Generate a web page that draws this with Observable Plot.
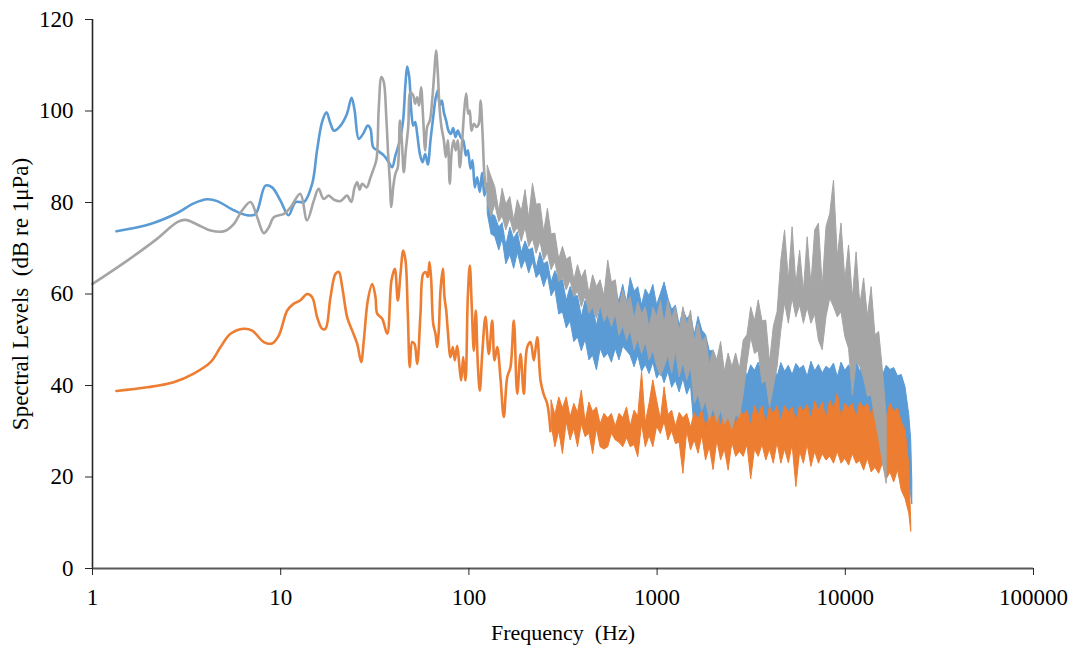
<!DOCTYPE html>
<html>
<head>
<meta charset="utf-8">
<script src="https://cdn.jsdelivr.net/npm/d3@7"></script>
<script src="https://cdn.jsdelivr.net/npm/@observablehq/plot@0.6"></script>
<style>
  body { margin: 0; background: #fff; }
  svg text { white-space: pre; }
</style>
</head>
<body>
<div id="chart"></div>
<script>
// Underwater noise spectra: three recordings, spectral level vs frequency (log axis).

const xTicks = [1, 10, 100, 1000, 10000, 100000];
const yTicks = [0, 20, 40, 60, 80, 100, 120];
const xTitle = "Frequency  (Hz)";
const yTitle = "Spectral Levels  (dB re 1μPa)";

// Low-frequency part of each spectrum (individual resolved points)
const blueLineHz = [1.34, 2.03, 2.82, 3.45, 4.07, 4.6, 5.63, 6.64, 7.35, 8.3, 9.0, 9.97, 11.0, 12.0, 13.3, 14.7, 15.6, 16.6, 17.5, 18.4, 19.2, 20.8, 22.5, 23.8, 24.7, 26.0, 27.4, 29.0, 30.0, 31.0, 32.6, 35.3, 37.5, 39.1, 40.7, 43.0, 44.7, 46.0, 47.0, 48.2, 49.4, 50.6, 51.8, 53.1, 54.9, 56.7, 58.6, 60.5, 62.5, 64.6, 66.7, 68.4, 70.0, 71.8, 73.6, 75.7, 77.9, 80.2, 82.5, 84.9, 87.3, 90.2, 93.3, 96.4, 98.7, 102, 104.5, 107.5, 110.6, 114.3, 117.5, 121, 124];
const blueLineDb = [73.7, 75.3, 77.7, 79.8, 80.7, 80.3, 78.3, 77.2, 77.5, 83.7, 83.3, 80.4, 77.2, 80.1, 80.1, 84.1, 91.4, 97.6, 99.7, 97.2, 95.7, 96.8, 99.4, 102.9, 100.1, 93.9, 95.0, 96.8, 96.1, 92.1, 91.4, 90.3, 88.8, 87.7, 90.3, 93.6, 97.9, 105.9, 109.7, 107.4, 100.1, 96.8, 97.6, 95.0, 90.6, 88.8, 90.6, 88.3, 93.6, 98.6, 103.0, 104.5, 101.2, 102.3, 99.7, 97.9, 95.7, 95.0, 96.3, 94.3, 95.7, 94.3, 93.6, 90.3, 91.4, 87.4, 89.2, 83.3, 85.5, 82.3, 86.5, 81.5, 84];

const grayLineHz = [1.0, 1.53, 2.21, 2.82, 3.12, 3.6, 4.24, 4.99, 5.63, 6.24, 6.91, 7.5, 8.13, 8.65, 9.19, 10.4, 11.3, 12.7, 13.8, 15.0, 15.9, 16.9, 18.0, 19.2, 20.8, 22.5, 23.7, 24.7, 25.5, 26.3, 27.1, 28.6, 30.0, 31.2, 32.3, 33.2, 34.3, 35.3, 36.4, 37.3, 38.0, 38.7, 39.6, 40.7, 41.9, 43.0, 44.0, 45.1, 46.2, 47.6, 48.9, 50.6, 51.8, 53.1, 54.4, 55.7, 57.1, 58.6, 60.0, 62.0, 63.8, 65.6, 66.9, 68.4, 69.8, 71.5, 73.6, 75.4, 77.3, 79.1, 81.1, 83.0, 85.1, 87.3, 89.5, 92.1, 94.8, 96.8, 99.2, 101, 103.2, 106.2, 109.7, 112.9, 115.3, 118, 121, 124];
const grayLineDb = [62.2, 67.3, 72.1, 75.7, 76.2, 75.2, 73.9, 73.7, 75.3, 78.3, 80.1, 76.8, 73.3, 74.6, 76.8, 77.5, 79.0, 81.9, 76.1, 80.4, 83.0, 80.8, 81.5, 80.6, 80.3, 81.5, 80.1, 83.3, 84.4, 82.8, 84.1, 83.3, 85.5, 87.4, 89.5, 100.8, 107.4, 106.3, 98.6, 89.9, 84.8, 79.0, 83.3, 86.3, 87.7, 97.9, 93.6, 86.6, 91.4, 96.5, 104.1, 103.4, 101.6, 103.0, 101.2, 105.2, 98.6, 91.4, 96.5, 97.9, 102.3, 108.9, 113.2, 108.1, 100.8, 96.5, 93.6, 89.9, 93.6, 84.1, 91.4, 93.6, 91.4, 93.6, 87.7, 93.6, 100.8, 103.8, 99.4, 100.1, 95.7, 97.2, 96.5, 97.2, 102.3, 95.7, 85.9, 82.6];

const orangeLineHz = [1.34, 1.95, 2.70, 3.45, 4.24, 4.79, 5.41, 6.37, 7.06, 8.13, 9.0, 9.77, 10.83, 11.74, 12.7, 13.83, 14.70, 15.63, 16.61, 17.30, 18.39, 19.55, 20.36, 21.23, 22.56, 23.98, 25.50, 26.77, 27.64, 29.03, 30.64, 31.90, 32.56, 34.62, 36.81, 38.80, 40.40, 41.91, 43.31, 44.77, 46.05, 47.36, 48.53, 49.97, 51.40, 53.12, 55.30, 57.18, 59.02, 60.48, 61.75, 63.06, 64.62, 66.45, 67.85, 69.19, 70.64, 72.66, 74.19, 75.76, 77.25, 79.84, 82.13, 84.16, 86.66, 89.13, 91.01, 93.27, 95.92, 98.67, 101.1, 103.6, 106.2, 108.8, 111.5, 114.3, 117.7, 122.5, 127.6, 133.0, 136.8, 141.4, 147.2, 153.2, 159.8, 166.3, 173.3, 180.6, 188.1, 195.8, 204.1, 212.5, 221.3, 230.7, 240.2, 250.0, 260.7, 271.4];
const orangeLineDb = [38.8, 39.6, 40.7, 42.6, 45.1, 48.4, 51.3, 52.4, 52.0, 49.5, 49.2, 50.9, 56.4, 57.9, 58.6, 60.0, 59.3, 54.9, 52.4, 52.4, 59.3, 64.4, 64.8, 61.5, 54.9, 52.0, 49.1, 45.1, 49.8, 58.6, 62.2, 59.3, 55.7, 54.6, 51.3, 63.0, 65.5, 58.6, 64.4, 69.5, 67.3, 55.7, 44.0, 49.5, 49.1, 44.7, 55.7, 64.4, 64.8, 63.7, 67.0, 63.0, 53.5, 51.3, 48.4, 52.0, 60.8, 65.5, 59.3, 56.4, 52.0, 46.2, 48.4, 45.5, 48.7, 44.0, 41.1, 46.2, 41.1, 59.3, 66.2, 57.1, 47.6, 56.4, 44.7, 38.9, 46.9, 55.0, 46.9, 54.2, 45.5, 48.4, 41.5, 33.1, 41.8, 44.0, 54.2, 38.2, 46.9, 38.2, 48.4, 49.5, 45.5, 50.6, 41.1, 38.0, 36.0, 30.0];

// Dense high-frequency part: shared frequency bins, with the low/high extent of each trace per bin
const bandHz = [126, 132, 138, 145, 151, 158, 166, 174, 182, 191, 200, 209, 219, 229, 240, 251, 263, 275, 288, 302, 316, 331, 347, 363, 380, 398, 417, 437, 457, 479, 501, 525, 550, 575, 603, 631, 661, 692, 724, 759, 794, 832, 871, 912, 955, 1000, 1047, 1096, 1148, 1202, 1259, 1318, 1380, 1445, 1514, 1585, 1660, 1738, 1820, 1905, 1995, 2089, 2188, 2291, 2399, 2512, 2630, 2754, 2884, 3020, 3162, 3311, 3467, 3631, 3802, 3981, 4169, 4365, 4571, 4786, 5012, 5248, 5495, 5754, 6026, 6310, 6607, 6918, 7244, 7586, 7943, 8318, 8710, 9120, 9550, 10000, 10471, 10965, 11482, 12023, 12589, 13183, 13804, 14454, 15136, 15849, 16596, 17378, 18197, 19055, 19953, 20893, 21878, 22400, 22700];

// blue trace, bins 0..114
const blueHi = [84, 77.5, 77, 74.5, 75.5, 70.5, 74.5, 72, 73.5, 69,
  71.5, 69.5, 70, 65.5, 69, 66.5, 67, 62.5, 65, 63,
  63, 58.5, 61.5, 59.5, 59.5, 55, 58.5, 57, 57, 53,
  57, 56.5, 58.5, 55.5, 60, 58.5, 62, 58, 63.5, 60.5,
  61.5, 57.5, 61, 59.5, 62, 57.5, 60, 62.5, 59, 56.5,
  57.5, 53, 56.5, 54.5, 55.5, 51, 55, 52, 51, 47.5,
  47.5, 45, 45.5, 42.5, 44.5, 43.5,
  44.2, 42.8, 44.6, 41.9, 44.4, 43.2, 45.0, 42.1, 43.9, 43.4, 44.6, 41.8, 44.9, 43.0, 44.3, 42.3, 44.7, 43.6, 44.3, 41.9, 45.2, 43.1, 44.5, 42.6, 44.1, 43.5, 44.8, 41.8, 45.0, 43.2, 44.4, 42.5, 45.1,
  43.0, 44.5, 41.9, 45.0, 43.3, 44.8, 42.2, 44.3, 43.4, 43.8, 42.0, 42.3, 39.6, 33.5,
  28, 19];
const blueLo = [77.5, 73, 72.5, 69.5, 72, 66.5, 68.5, 65.5, 69, 65.5,
  67.5, 64.5, 67, 63.5, 64.5, 61.5, 64, 59.5, 61, 55.5,
  56, 52.5, 54, 49.5, 50.5, 47.5, 50, 45.5, 46.5, 43.3,
  48, 46, 47, 45, 48, 45.5, 48.5, 47.5, 46.5, 44,
  46.5, 43, 44.5, 42.5, 45, 41.5, 43, 40.5, 43, 39.5,
  41, 38.5, 41.5, 38, 40,
  30, 30, 30, 30, 30, 30, 30, 30, 30, 30, 30,
  30, 30, 30, 30, 30, 30, 30, 30, 30, 30, 30, 30,
  30, 30.5, 30, 31, 30, 30.5, 30, 31, 30, 30.5, 30, 31, 30, 30.5, 30, 31, 30, 30.5, 30, 31, 30, 30.5, 30, 31, 30, 30.5, 30, 31, 30, 30.5, 30, 30.5,
  29.5, 28, 20,
  16, 14];

// gray trace, bins 0..106
const grayHi = [88.0, 85.5, 83.4, 78.0, 83.0, 79.5, 81.2, 76.0, 80.5, 78.0,
  82.7, 76.5, 84.1, 79.5, 79.7, 73.5, 78.6, 73.0, 73.2, 67.5,
  70.3, 67.5, 68.1, 63.0, 66.3, 63.5, 65.2, 60.0, 64.1, 61.5,
  63.0, 59.5, 67.3, 62.5, 63.0, 57.0, 60.8, 58.0, 59.3, 54.5,
  58.2, 55.5, 57.1, 52.5, 57.0, 55.0, 58.5, 53.5, 58.6, 54.5,
  57.1, 51.5, 57.1, 53.0, 56.4, 49.5, 53.5, 49.5, 50.6, 44.5,
  47.7, 45.5, 49.5, 43.0, 47.0, 44.0, 47.0, 43.5, 49.8, 51.0,
  57.1, 54.0, 58.6, 54.0, 54.2, 45.0, 52.8, 56.0,
  67.3, 73.9, 63.0, 74.6, 62.0, 69.5, 60.5, 72.4, 62.0, 73.9,
  75.4, 61.5, 74.6, 77.5, 84.8, 68.0, 75.4, 63.0, 70.6, 59.0,
  69.1, 57.5, 63.4, 55.0, 61.5, 51.0, 51.7, 43.2, 33.1];
const grayLo = [80.0, 76.8, 79.5, 75.7, 77.0, 73.9, 76.5, 73.2, 74.5, 71.4,
  74.5, 70.3, 72.0, 68.8, 71.5, 67.3, 69.0, 65.2, 67.0, 62.6,
  63.5, 60.8, 63.0, 59.3, 60.5, 57.1, 59.5, 55.7, 57.0, 54.6,
  57.5, 53.9, 55.5, 52.8, 55.5, 50.9, 53.0, 49.8, 52.0, 47.7,
  50.0, 46.9, 49.5, 45.5, 47.5, 44.2, 42.0, 44.0, 46.5, 42.6,
  47.5, 41.8, 45.0, 41.1, 44.0, 36.0, 38.0, 34.5, 36.5, 32.5,
  35.0, 32.0, 34.5, 31.5, 33.0, 30.5, 33.5, 33.0, 38.0, 44.7,
  50.5, 46.9, 47.5, 40.4, 41.0, 35.3, 39.5, 44.0,
  52.0, 58.0, 53.5, 59.0, 54.9, 57.5, 53.5, 57.0, 53.5, 55.5,
  49.8, 47.7, 54.9, 59.0, 57.1, 54.9, 56.0, 50.6, 48.0, 37.8,
  45.1, 44.0, 41.5, 37.5, 37.8, 32.7, 28.3, 23.2, 18.5];

// orange trace, bins 17..113
const orangeStart = 17;
const orangeHi = [36.7, 33.5, 37.4, 35.0, 37.4, 33.0, 36.0, 34.0, 38.9, 32.0,
  36.3, 34.2, 35.2, 31.5, 33.8, 32.8, 33.8, 31.0, 33.8, 32.9,
  35.2, 31.0, 34.5, 33.2, 42.9, 31.8, 36.0, 41.1, 36.7, 32.5,
  39.6, 33.5, 34.5, 31.0, 34.0, 32.8, 33.8, 30.8, 34.0, 32.5,
  34.5, 30.5, 34.2, 32.8, 34.5, 31.0, 34.0, 32.6, 34.5, 30.8,
  35.0, 33.4, 34.5, 31.2, 35.5, 33.5, 35.5, 31.5, 35.3, 33.6,
  35.5, 32.0, 35.5, 34.0, 35.2, 32.2, 35.5, 34.2, 35.8, 32.5,
  36.5, 34.4, 36.3, 32.6, 36.7, 34.8, 38.2, 32.8, 36.0, 35.0,
  36.0, 33.0, 36.3, 35.0, 36.0, 33.2, 36.3, 35.2, 36.0, 33.0,
  36.0, 34.2, 35.0, 32.0, 30.2, 22.5, 10.0];
const orangeLo = [31.5, 26.5, 30.0, 25.0, 32.0, 28.0, 30.5, 26.5, 31.5, 28.7,
  29.5, 25.0, 30.5, 26.5, 26.0, 26.5, 29.5, 28.0, 27.5, 26.5,
  28.5, 26.5, 27.0, 24.3, 31.5, 26.5, 29.0, 26.5, 31.0, 29.4,
  32.0, 28.0, 30.0, 27.2, 27.5, 20.7, 30.0, 25.8, 28.0, 25.1,
  29.0, 23.6, 26.5, 21.5, 28.0, 23.6, 26.0, 21.4, 27.5, 24.4,
  25.5, 24.4, 27.0, 19.5, 26.0, 24.4, 27.0, 23.6, 26.0, 22.9,
  27.5, 22.9, 26.0, 23.0, 27.0, 17.8, 25.5, 22.9, 27.0, 22.2,
  25.5, 22.9, 25.0, 23.6, 24.5, 22.9, 25.5, 22.9, 24.0, 22.5,
  25.0, 22.9, 23.5, 21.4, 24.0, 21.0, 22.0, 20.7, 23.0, 19.5,
  21.0, 18.8, 21.5, 17.0, 15.2, 12.0, 8.0];

const BLUE = "#5b9bd5", ORANGE = "#ed7d31", GRAY = "#a5a5a5";

const points = (hz, db) => hz.map((h, i) => ({hz: h, db: db[i]}));
const band = (start, lo, hi) => lo.map((l, i) => ({hz: bandHz[start + i], lo: l, hi: hi[i]}));

const lineOpts = (color) => ({x: "hz", y: "db", stroke: color, strokeWidth: 2.6, curve: "catmull-rom", strokeLinejoin: "round"});
const bandOpts = (color) => ({x: "hz", y1: "lo", y2: "hi", fill: color, stroke: color, strokeWidth: 1, strokeLinejoin: "round"});

const chart = Plot.plot({
  width: 1073,
  height: 649,
  marginLeft: 92,
  marginRight: 40,
  marginTop: 19,
  marginBottom: 81,
  style: {
    fontFamily: "'Liberation Serif', 'Times New Roman', serif",
    fontSize: "22px",
    color: "#000",
    background: "#fff"
  },
  x: {type: "log", domain: [1, 100000]},
  y: {domain: [0, 120]},
  marks: [
    Plot.areaY(band(0, blueLo, blueHi), bandOpts(BLUE)),
    Plot.lineY(points(blueLineHz, blueLineDb), lineOpts(BLUE)),
    Plot.areaY(band(orangeStart, orangeLo, orangeHi), bandOpts(ORANGE)),
    Plot.lineY(points(orangeLineHz, orangeLineDb), lineOpts(ORANGE)),
    Plot.areaY(band(0, grayLo, grayHi), bandOpts(GRAY)),
    Plot.lineY(points(grayLineHz, grayLineDb), lineOpts(GRAY)),
    Plot.ruleX([1], {stroke: "#262626", strokeWidth: 1.6}),
    Plot.ruleY([0], {stroke: "#595959", strokeWidth: 2}),
    Plot.axisX({
      ticks: xTicks,
      tickFormat: (d) => String(d),
      tickSize: 7,
      tickPadding: 13,
      stroke: "#262626",
      fontSize: 23,
      label: null
    }),
    Plot.axisY({
      ticks: yTicks,
      tickSize: 7,
      tickPadding: 12,
      stroke: "#262626",
      fontSize: 23,
      label: null
    }),
    Plot.text([xTitle], {text: (d) => d, frameAnchor: "bottom", textAnchor: "middle", lineAnchor: "middle", dy: 64, fontSize: 22}),
    Plot.text([yTitle], {text: (d) => d, frameAnchor: "left", textAnchor: "middle", lineAnchor: "middle", dx: -72, rotate: -90, fontSize: 23})
  ]
});

document.getElementById("chart").append(chart);
</script>
</body>
</html>
